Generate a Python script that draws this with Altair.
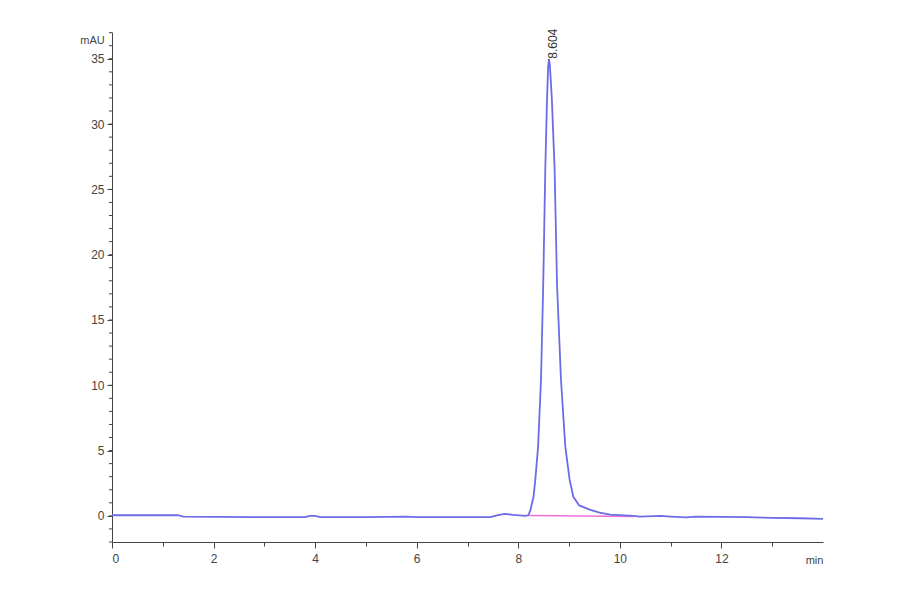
import pandas as pd
import altair as alt

# chromatogram trace (min, mAU)
time_min = [0.0, 0.3, 1.3, 1.4, 2.8, 3.8, 3.9, 4.0, 4.1, 5.0, 5.8, 6.0, 7.45, 7.6, 7.74, 7.9,
            8.14, 8.2, 8.24, 8.30, 8.335, 8.39, 8.447, 8.49, 8.532, 8.565, 8.588, 8.604, 8.622,
            8.66, 8.715, 8.763, 8.841, 8.926, 9.011, 9.084, 9.2, 9.419, 9.6, 9.81, 10.0, 10.27,
            10.4, 10.8, 11.0, 11.3, 11.5, 12.0, 12.5, 13.0, 13.55, 14.0]
signal_mau = [0.05, 0.05, 0.05, -0.05, -0.1, -0.1, 0.0, 0.0, -0.1, -0.1, -0.05, -0.1, -0.1, 0.05,
              0.15, 0.08, 0.0, 0.05, 0.46, 1.46, 2.76, 5.3, 10.4, 17.5, 26.6, 31.8, 34.4, 35.0,
              34.5, 32.0, 26.6, 17.7, 10.4, 5.3, 2.76, 1.46, 0.8, 0.46, 0.25, 0.1, 0.05, 0.0,
              -0.05, 0.0, -0.05, -0.12, -0.05, -0.08, -0.1, -0.15, -0.18, -0.23]

# integration baseline under the peak
base_time = [8.22, 10.27]
base_mau = [0.02, -0.05]

peak_rt = [8.604]
peak_height = [35.0]
peak_label = ["8.604"]

x_ticks = [i * 0.5 for i in range(28)]
y_major = [0, 5, 10, 15, 20, 25, 30, 35]
y_minor = list(range(-2, 38))

trace = pd.DataFrame({"t": time_min, "v": signal_mau})
basel = pd.DataFrame({"t": base_time, "v": base_mau})
peaks = pd.DataFrame({"t": peak_rt, "v": peak_height, "lab": peak_label})
minor = pd.DataFrame({"v": y_minor})

FONT = "Liberation Sans"
AX = "#444"

xscale = alt.Scale(domain=[0, 14], nice=False)
yscale = alt.Scale(domain=[-2, 37.05], nice=False)

xaxis = alt.Axis(values=x_ticks, labelExpr="datum.value % 2 === 0 ? datum.label : ''",
                 tickSize={"condition": {"test": "datum.value % 2 === 0", "value": 6}, "value": 4},
                 labelOverlap=False, grid=False, title="min", titleX=702, titleY=18, titleAngle=0,
                 titleAlign="center", titleBaseline="middle", titleFontWeight="normal",
                 titleFontSize=11, titleFont=FONT, titleColor=AX,
                 labelFont=FONT, labelFontSize=12, labelColor=AX, labelPadding=5,
                 domainColor=AX, tickColor=AX)
yaxis = alt.Axis(values=y_major, tickSize=5, labelOverlap=False, grid=False,
                 title="mAU", titleX=-20, titleY=8, titleAngle=0,
                 titleAlign="center", titleBaseline="middle", titleFontWeight="normal",
                 titleFontSize=11, titleFont=FONT, titleColor=AX,
                 labelFont=FONT, labelFontSize=12, labelColor=AX, labelPadding=3,
                 domainColor=AX, tickColor=AX)

line = alt.Chart(trace).mark_line(color="#6c6ce8", strokeWidth=1.8).encode(
    x=alt.X("t:Q", scale=xscale, axis=xaxis),
    y=alt.Y("v:Q", scale=yscale, axis=yaxis),
    order="t:Q",
)

base = alt.Chart(basel).mark_line(color="#f070d8", strokeWidth=1.5).encode(
    x="t:Q", y="v:Q"
)

# minor ticks on the y axis
yminor = alt.Chart(minor).mark_rule(color=AX, strokeWidth=1).encode(
    y="v:Q", x=alt.value(-3), x2=alt.value(0)
)

label = alt.Chart(peaks).mark_text(angle=270, align="left", baseline="middle", dy=4,
                                   font=FONT, fontSize=12, color="#333").encode(
    x="t:Q", y="v:Q", text="lab:N"
)

chart = alt.layer(base, line, yminor, label).properties(
    width=711, height=510,
    autosize=alt.AutoSizeParams(type="none"),
    padding={"left": 104, "top": 24, "right": 60, "bottom": 44},
).configure_view(stroke=None)

chart.save("out.html", embed_options={"renderer": "svg", "actions": False})
